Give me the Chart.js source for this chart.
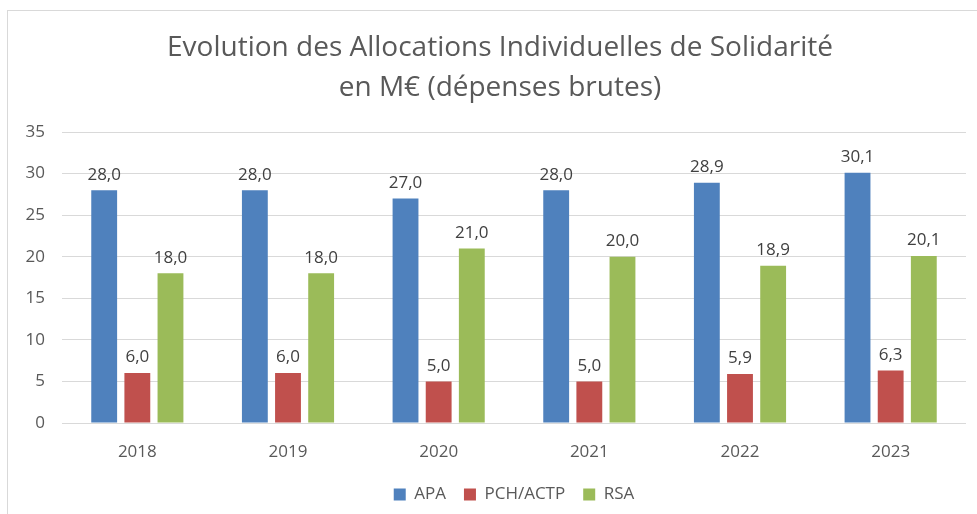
<!DOCTYPE html>
<html lang="fr">
<head>
<meta charset="utf-8">
<script src="https://cdn.jsdelivr.net/npm/chart.js@4"></script>
<style>
    html, body { margin: 0; padding: 0; background: #fff; }
    #contenedor { position: relative; width: 977px; height: 514px; }
</style>
</head>
<body>
<div id="contenedor"><canvas id="myChart"></canvas></div>
<script>
const anios = ['2018', '2019', '2020', '2021', '2022', '2023']
const apa = [28.0, 28.0, 27.0, 28.0, 28.9, 30.1]
const pch_actp = [6.0, 6.0, 5.0, 5.0, 5.9, 6.3]
const rsa = [18.0, 18.0, 21.0, 20.0, 18.9, 20.1]
const ticks_y = [0, 5, 10, 15, 20, 25, 30, 35]
const titulo_lineas = ['Evolution des Allocations Individuelles de Solidarité', 'en M€ (dépenses brutes)']

const fuente = '"Open Sans", Calibri, sans-serif'
var myChart

// marco gris del grafico (solo izquierda y arriba son visibles) + titulo centrado en el marco
const marco = {
    id: 'marco',
    beforeDraw(chart) {
        const ctx = chart.ctx
        ctx.save()
        ctx.strokeStyle = '#d9d9d9'
        ctx.lineWidth = 1
        ctx.strokeRect(7.5, 10.5, 1000, 520)
        ctx.font = '28px ' + fuente
        ctx.fillStyle = '#595959'
        ctx.textAlign = 'center'
        ctx.textBaseline = 'middle'
        titulo_lineas.forEach((t, i) => ctx.fillText(t, 500, 48 + i * 40))
        ctx.restore()
    }
}

// etiquetas de valores encima de las barras
const etiquetas = {
    id: 'etiquetas',
    afterDatasetsDraw(chart) {
        const ctx = chart.ctx
        ctx.save()
        ctx.font = '17px ' + fuente
        ctx.fillStyle = '#404040'
        ctx.textAlign = 'center'
        ctx.textBaseline = 'bottom'
        chart.data.datasets.forEach((ds, i) => {
            chart.getDatasetMeta(i).data.forEach((bar, j) => {
                const txt = ds.data[j].toLocaleString('fr-FR', { minimumFractionDigits: 1, maximumFractionDigits: 1 })
                ctx.fillText(txt, bar.x, bar.y - 7)
            })
        })
        ctx.restore()
    }
}

function generar_grafico() {
    const data = {
        labels: anios,
        datasets: [
            { label: 'APA', data: apa, backgroundColor: '#4F81BD' },
            { label: 'PCH/ACTP', data: pch_actp, backgroundColor: '#C0504D' },
            { label: 'RSA', data: rsa, backgroundColor: '#9BBB59' }
        ]
    }

    const config = {
        type: 'bar',
        data: data,
        options: {
            responsive: true,
            maintainAspectRatio: false,
            animation: false,
            devicePixelRatio: 1,
            categoryPercentage: 0.66,
            barPercentage: 0.78,
            layout: { padding: { left: 0, right: 11, top: 132, bottom: 1 } },
            plugins: {
                title: { display: false },
                legend: {
                    position: 'bottom',
                    fullSize: false,
                    labels: {
                        color: '#595959',
                        font: { family: fuente, size: 17 },
                        boxWidth: 12,
                        boxHeight: 12,
                        padding: 18
                    }
                },
                tooltip: { enabled: false }
            },
            scales: {
                x: {
                    grid: { display: false },
                    border: { display: false },
                    ticks: { color: '#595959', font: { family: fuente, size: 17 }, padding: 11 },
                    afterFit: (s) => { s.height = 45 }
                },
                y: {
                    min: 0,
                    max: 35,
                    afterBuildTicks: (s) => { s.ticks = ticks_y.map(v => ({ value: v })) },
                    grid: { color: '#d9d9d9', drawTicks: false },
                    border: { display: false },
                    ticks: { color: '#595959', font: { family: fuente, size: 17 }, padding: 17 },
                    afterFit: (s) => { s.width = 62 }
                }
            }
        },
        plugins: [marco, etiquetas]
    }

    myChart = new Chart(document.getElementById('myChart'), config)
}

generar_grafico()
</script>
</body>
</html>
